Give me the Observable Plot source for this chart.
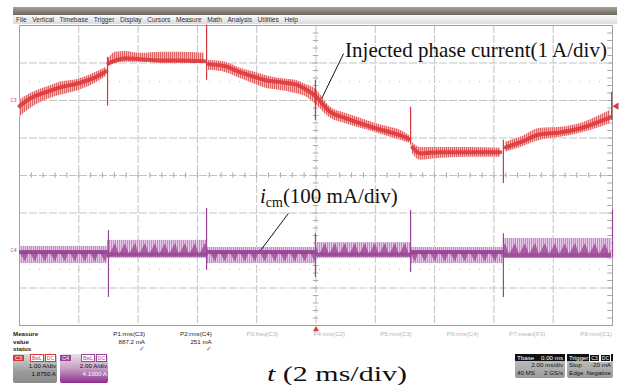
<!DOCTYPE html>
<html><head><meta charset="utf-8">
<script src="https://cdn.jsdelivr.net/npm/d3@7"></script>
<script src="https://cdn.jsdelivr.net/npm/@observablehq/plot@0.6"></script>
<style>
body{margin:0;background:#fff;}
#wrap{position:relative;width:620px;height:385px;overflow:hidden;font-family:"Liberation Sans",Arial,sans-serif;}
#wrap svg{position:absolute;left:0;top:0;}
.abs{position:absolute;white-space:nowrap;}
#bar1{left:13px;top:7px;width:604px;height:8px;background:linear-gradient(#a6a296,#6a665b);}
#bar2{left:13px;top:15px;width:604px;height:9px;background:linear-gradient(#fbfbfc,#d9dbe0);display:flex;gap:5.6px;align-items:center;font-size:6.6px;color:#333;padding-left:3px;box-sizing:border-box;}
.meas{font-size:6.2px;line-height:7.6px;font-weight:bold;color:#222;}
.col{font-size:6.2px;line-height:7.6px;text-align:right;color:#222;}
.col.off{color:#b4b4b4;font-weight:normal;}
.chk{color:#9b3f98;font-size:7px;line-height:7px;}
.chbox{border-radius:2px;font-size:6.2px;line-height:7.6px;text-align:right;color:#111;box-sizing:border-box;padding-right:1px;}
.hdr{display:flex;justify-content:space-between;align-items:center;height:7px;margin-bottom:1px;}
.tag{font-size:5.5px;line-height:6px;padding:0 2px;color:#fff;}
.bw{font-size:5px;line-height:5px;padding:0 1px;border:1px solid;background:#fff;margin-left:1px;}
.dbox{background:linear-gradient(#c9c9c9,#9a9a9a);border-radius:2px;font-size:6.2px;line-height:7.4px;color:#111;box-sizing:border-box;}
.dhdr{background:#111;color:#fff;display:flex;justify-content:space-between;padding:0 2px;height:7.4px;}
.drow{display:flex;justify-content:space-between;padding:0 2px;}
</style></head><body><div id="wrap"></div>
<script>
// ---------------- data ----------------
const menuItems = ["File","Vertical","Timebase","Trigger","Display","Cursors","Measure","Math","Analysis","Utilities","Help"];

// Injected phase current (C3), amps relative to C3 marker, time in ms
const redSegment = [1,1,1,1,1,1,1, 2,2,2,2,2,2,2, 3,3,3,3,3,3,3,3,3,3,3,3,3,3,3,3, 4,4,4,4,4, 5,5,5,5,5,5,5];
const redTime = [-10.0,-9.63,-9.12,-8.62,-8.01,-7.44,-7.07,
  -7.00,-6.76,-6.43,-5.92,-5.24,-4.57,-3.76,
  -3.63,-3.05,-2.55,-2.04,-1.70,-1.20,-0.69,-0.35,-0.05,0.49,0.99,1.50,2.01,2.51,2.85,3.15,
  3.25,3.52,4.20,5.21,6.22,
  6.39,6.90,7.57,8.25,8.92,9.59,9.93];
const redCenter = [-0.15,0.06,0.22,0.35,0.46,0.62,0.78,
  0.99,1.07,1.13,1.10,1.07,1.07,1.05,
  0.97,0.91,0.75,0.62,0.54,0.49,0.43,0.30,0.14,-0.31,-0.47,-0.61,-0.74,-0.85,-0.93,-1.03,
  -1.25,-1.41,-1.38,-1.38,-1.38,
  -1.25,-1.11,-0.90,-0.85,-0.74,-0.55,-0.45];
const redUpper = [0.01,0.19,0.35,0.49,0.57,0.75,0.89,
  1.13,1.29,1.31,1.26,1.29,1.29,1.26,
  1.07,1.02,0.86,0.75,0.67,0.59,0.54,0.43,0.33,-0.18,-0.34,-0.47,-0.61,-0.71,-0.79,-0.93,
  -1.11,-1.25,-1.25,-1.25,-1.27,
  -1.11,-0.98,-0.74,-0.71,-0.61,-0.39,-0.26];
const redLower = [-0.45,-0.21,0.01,0.14,0.27,0.46,0.65,
  0.91,0.99,1.02,1.02,0.99,0.99,0.99,
  0.81,0.75,0.59,0.43,0.33,0.27,0.19,0.11,-0.07,-0.47,-0.61,-0.74,-0.85,-0.98,-1.06,-1.14,
  -1.41,-1.59,-1.54,-1.51,-1.51,
  -1.38,-1.25,-1.06,-0.98,-0.87,-0.71,-0.61];
const redSpikeTime = [-7.03,-3.69,-0.02,3.19,6.32,9.97];
const redSpikeTop = [1.15,2.01,0.54,-0.18,-1.06,0.22];
const redSpikeBottom = [-0.15,0.54,-0.53,-1.19,-2.21,-0.53];

// Common-mode current i_cm (C4), mA relative to C4 marker
const cmStart = [-10,-7.03,-3.69,-0.02,3.19,6.32];
const cmEnd = [-7.03,-3.69,-0.02,3.19,6.32,9.97];
const cmUpper = [11,27,8,21,8,32];
const cmLower = [-35,-21,-35,-21,-35,-21];
const cmCore = [-4,-11,-4,-11,-4,-13];
const cmRipple = ["down","up","down","up","down","up"];
const cmSpikeTime = [-7.0,-3.69,-0.02,3.19,6.32,10.0];
const cmSpikeTop = [53,112,45,107,45,107];
const cmSpikeBottom = [-125,-53,-72,-59,-125,-19];

const measNames = ["P1:rms(C3)","P2:rms(C4)","P3:freq(C3)","P4:rms(C2)","P5:rms(C3)","P6:rms(C4)","P7:mean(F3)","P8:rms(C1)"];
const measValues = ["887.2 mA","251 mA","","","","","",""];
const measActive = [true,true,false,false,false,false,false,false];

const channels = [
  {name:"C3", vdiv:"1.00 A/div", offset:"1.8750 A"},
  {name:"C4", vdiv:"2.00 A/div", offset:"4.1000 A"}
];
const timebase = {label:"Tbase", delay:"0.00 ms", tdiv:"2.00 ms/div", pts:"40 MS", rate:"2 GS/s"};
const trigger = {label:"Trigger", src:"C3", cpl:"DC", mode:"Stop", level:"-20 mA", type:"Edge", slope:"Negative"};
const triggerLevelA = -0.15;

const redLabel = "Injected phase current(1 A/div)";
const cmLabelMain = "(100 mA/div)";
const xLabel = "(2 ms/div)";

// screen layout in divisions
const redOffsetDiv = 2, ampPerDiv = 1;
const cmOffsetDiv = -2, mAPerDiv = 100;
const gridTimes = d3.range(-10, 10.001, 2);
const gridDivs = d3.range(-4, 4.001, 1);
const minorTimes = d3.range(-10, 10.001, 0.4);
const minorDivs = d3.range(-4, 4.001, 0.2);

// annotation anchors (time ms, screen divisions)
const redLeader = [{t1:0.93, d1:3.25, t2:0.19, d2:2.05}];
const cmLeader = [{t1:-0.93, d1:-1.01, t2:-1.87, d2:-2.0}];

// ---------------- build ----------------
const redRows = redTime.map((t,i)=>({t, seg:redSegment[i],
  c: redOffsetDiv + redCenter[i]/ampPerDiv,
  hi: redOffsetDiv + redUpper[i]/ampPerDiv,
  lo: redOffsetDiv + redLower[i]/ampPerDiv}));
const redSpikes = redSpikeTime.map((t,i)=>({t, y1: redOffsetDiv+redSpikeTop[i]/ampPerDiv, y2: redOffsetDiv+redSpikeBottom[i]/ampPerDiv}));
const cmRows = cmStart.map((s,i)=>({s, e:cmEnd[i], kind: cmRipple[i],
  hi: cmOffsetDiv + cmUpper[i]/mAPerDiv, lo: cmOffsetDiv + cmLower[i]/mAPerDiv, core: cmOffsetDiv + cmCore[i]/mAPerDiv}));
const cmSpikes = cmSpikeTime.map((t,i)=>({t, y1: cmOffsetDiv+cmSpikeTop[i]/mAPerDiv, y2: cmOffsetDiv+cmSpikeBottom[i]/mAPerDiv}));

const RED = "#d7363a", RED_L = "#f4bcba", RED_S = "#dc5a5c";
const PUR = "#9a4498", PUR_L = "#e6c9e6", PUR_S = "#c185c0", PUR_T = "#a4529e";
const GRID = "#c3c3c3";

const plot = Plot.plot({
  width: 620, height: 385,
  marginLeft: 19, marginRight: 8, marginTop: 25, marginBottom: 60,
  x: {domain: [-10, 10], axis: null},
  y: {domain: [-4, 4], axis: null},
  style: {background: "transparent", overflow: "visible"},
  marks: [
    Plot.ruleY(gridDivs.slice(1,-1), {stroke: GRID, strokeDasharray: "8,2"}),
    Plot.ruleX(gridTimes.slice(1,-1), {stroke: GRID, strokeDasharray: "8,2"}),
    Plot.ruleY([2.5,-2.5], {stroke: "#b8b8b8", strokeDasharray: "1,9"}),
    Plot.ruleX(minorTimes, {y1: -0.07, y2: 0.07, stroke: "#a8a8a8"}),
    Plot.ruleY(minorDivs, {x1: -0.09, x2: 0.09, stroke: "#a8a8a8"}),
    Plot.ruleY(minorDivs, {x1: 9.84, x2: 10, stroke: "#a8a8a8"}),
    Plot.frame({stroke: "#a0a0a0"}),
    // red trace
    Plot.areaY(redRows, {x: "t", y1: "lo", y2: "hi", z: "seg", fill: "url(#redStripe)", curve: "monotone-x"}),
    Plot.line(redRows, {x: "t", y: "c", z: "seg", stroke: RED, strokeWidth: 4, strokeOpacity: 0.85, curve: "monotone-x"}),
    Plot.ruleX(redSpikes, {x: "t", y1: "y1", y2: "y2", stroke: RED, strokeWidth: 1.2}),
    // purple trace
    Plot.rect(cmRows, {filter: d => d.kind === "down", x1: "s", x2: "e", y1: "lo", y2: "hi", fill: "url(#cmDown)"}),
    Plot.rect(cmRows, {filter: d => d.kind === "up", x1: "s", x2: "e", y1: "lo", y2: "hi", fill: "url(#cmUp)"}),
    Plot.ruleY(cmRows, {y: "core", x1: "s", x2: "e", stroke: PUR, strokeWidth: 4, strokeOpacity: 0.9}),
    Plot.ruleX(cmSpikes, {x: "t", y1: "y1", y2: "y2", stroke: PUR, strokeWidth: 1.2}),
    // leaders
    Plot.link(redLeader, {x1: "t1", y1: "d1", x2: "t2", y2: "d2", stroke: "#111", strokeWidth: 1}),
    Plot.link(cmLeader, {x1: "t1", y1: "d1", x2: "t2", y2: "d2", stroke: "#111", strokeWidth: 1}),
    // markers
    Plot.dot([{t: 10, d: redOffsetDiv + triggerLevelA}], {x: "t", y: "d", symbol: "triangle", rotate: -90, r: 2.6, fill: RED, dx: 4}),
    Plot.dot([{t: 0, d: -4}], {x: "t", y: "d", symbol: "triangle", r: 2.2, fill: RED, dy: 4}),
    Plot.text([{t: -10, d: redOffsetDiv, n: "C3"}], {x: "t", y: "d", text: "n", fill: RED, fontSize: 5, dx: -3, textAnchor: "end"}),
    Plot.text([{t: -10, d: cmOffsetDiv, n: "C4"}], {x: "t", y: "d", text: "n", fill: PUR, fontSize: 5, dx: -3, textAnchor: "end"})
  ]
});

const svg = d3.select(plot);
const xs = plot.scale("x"), ys = plot.scale("y");
const defs = svg.insert("defs", ":first-child");
function stripes(id, bg, fg) {
  const p = defs.append("pattern").attr("id", id).attr("patternUnits", "userSpaceOnUse").attr("width", 2).attr("height", 4);
  p.append("rect").attr("width", 2).attr("height", 4).attr("fill", bg);
  p.append("rect").attr("width", 0.9).attr("height", 4).attr("fill", fg);
}
stripes("redStripe", RED_L, RED_S);
// ripple patterns for i_cm, aligned on each ripple kind's core level
function ripple(id, coreDiv, dir) {
  const y0 = ys.apply(coreDiv), H = 40, P = 10;
  const p = defs.append("pattern").attr("id", id).attr("patternUnits", "userSpaceOnUse")
    .attr("x", xs.apply(-10)).attr("y", y0 - H / 2).attr("width", P).attr("height", H);
  p.append("rect").attr("width", P).attr("height", H).attr("fill", PUR_L);
  for (let k = 0; k < P; k += 2) p.append("rect").attr("x", k).attr("width", 0.9).attr("height", H).attr("fill", PUR_S);
  const tip = dir === "down" ? H / 2 + 10 : H / 2 - 11;
  p.append("polygon").attr("points", `0,${H/2} ${P},${H/2} ${P*0.6},${tip}`).attr("fill", PUR_T).attr("fill-opacity", 0.9);
}
ripple("cmDown", cmOffsetDiv + cmCore[0] / mAPerDiv, "down");
ripple("cmUp", cmOffsetDiv + cmCore[1] / mAPerDiv, "up");

const serif = "'Liberation Serif','Times New Roman',serif";
// red label
svg.append("text").attr("text-anchor", "start").attr("x", xs.apply(redLeader[0].t1) + 2).attr("y", ys.apply(redLeader[0].d1) + 4)
  .attr("font-family", serif).attr("font-size", 21).attr("fill", "#111").text(redLabel);
// icm label
const cmT = svg.append("text").attr("text-anchor", "start").attr("x", xs.apply(cmLeader[0].t1) - 28).attr("y", ys.apply(cmLeader[0].d1) - 10)
  .attr("font-family", serif).attr("font-size", 21).attr("fill", "#111");
cmT.append("tspan").attr("font-style", "italic").text("i");
cmT.append("tspan").attr("font-size", 14).attr("dy", 4).text("cm");
cmT.append("tspan").attr("dy", -4).text(cmLabelMain);
// x label
const xl = svg.append("text").attr("text-anchor", "start").attr("x", 267).attr("y", 381)
  .attr("font-family", serif).attr("font-size", 22).attr("fill", "#111")
  .attr("textLength", 140).attr("lengthAdjust", "spacingAndGlyphs");
xl.append("tspan").attr("font-style", "italic").text("t");
xl.append("tspan").text(" " + xLabel);

const wrap = document.getElementById("wrap");
wrap.appendChild(plot);

// ---------------- scope chrome (HTML) ----------------
function div(cls, style, html) { const d = document.createElement("div"); d.className = cls; if (style) d.style.cssText = style; if (html != null) d.innerHTML = html; wrap.appendChild(d); return d; }
div("abs", "", "").id = "bar1";
const b2 = div("abs", "", ""); b2.id = "bar2";
menuItems.forEach(m => { const s = document.createElement("span"); s.textContent = m; b2.appendChild(s); });

div("abs meas", "left:13px;top:330px;", "Measure<br>value<br>status");
measNames.forEach((n, i) => {
  const right = 620 - (145 + i * 66.7);
  div("abs col" + (measActive[i] ? "" : " off"), `right:${right}px;top:330px;`,
    n + "<br>" + (measValues[i] || "&nbsp;") + "<br>" + (measActive[i] ? '<span class="chk">&#10003;</span>' : "&nbsp;"));
});

// channel boxes
const chStyles = [
  {left: 13, w: 44, bg: "linear-gradient(#d9d9d9,#9c9c9c 60%,#8a8a8a)", tag: RED, c2: "#111"},
  {left: 60, w: 48, bg: "linear-gradient(#e9dde9,#c79ec6 50%,#8e2d8c)", tag: PUR, c2: "#fff"}
];
channels.forEach((ch, i) => {
  const st = chStyles[i];
  div("abs chbox", `left:${st.left}px;top:354px;width:${st.w}px;height:29px;background:${st.bg};`,
    `<div class="hdr"><span class="tag" style="background:${st.tag}">${ch.name}</span><span><span class="bw" style="color:${st.tag};border-color:${st.tag}">BwL</span><span class="bw" style="color:${st.tag};border-color:${st.tag}">DC</span></span></div>` +
    `<div>${ch.vdiv}</div><div style="color:${st.c2}">${ch.offset}</div>`);
});
div("abs dbox", "left:515px;top:354px;width:50px;height:24px;",
  `<div class="dhdr"><span>${timebase.label}</span><span>${timebase.delay}</span></div>` +
  `<div class="drow"><span></span><span>${timebase.tdiv}</span></div>` +
  `<div class="drow"><span>${timebase.pts}</span><span>${timebase.rate}</span></div>`);
div("abs dbox", "left:567px;top:354px;width:46px;height:24px;",
  `<div class="dhdr"><span>${trigger.label}</span><span><span style="border:1px solid #fff;font-size:5px;padding:0 1px">${trigger.src}</span><span style="border:1px solid #fff;font-size:5px;padding:0 1px">${trigger.cpl}</span></span></div>` +
  `<div class="drow"><span>${trigger.mode}</span><span>${trigger.level}</span></div>` +
  `<div class="drow"><span>${trigger.type}</span><span>${trigger.slope}</span></div>`);
</script></body></html>
